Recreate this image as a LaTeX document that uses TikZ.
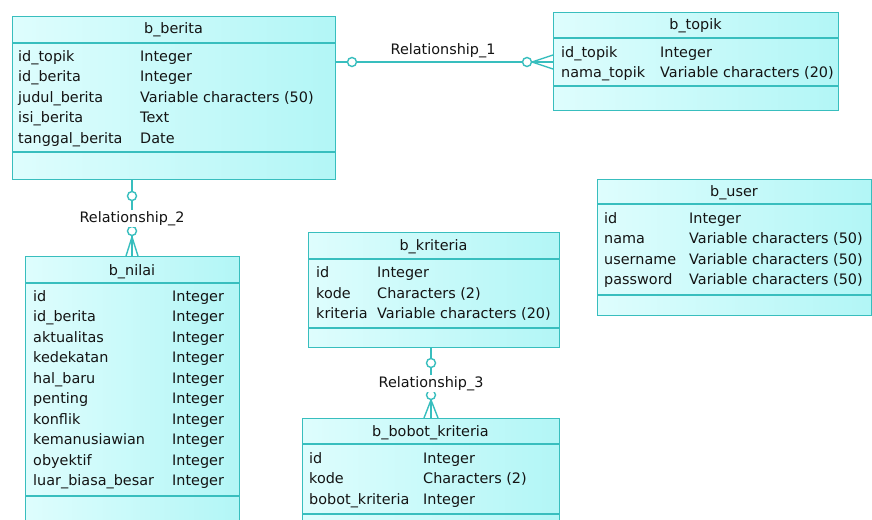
\documentclass[tikz,border=0pt]{standalone}
\usepackage{fontspec}
\setmainfont{DejaVu Sans}
\definecolor{ercol}{RGB}{56,190,190}
\definecolor{fillL}{RGB}{222,253,253}
\definecolor{fillR}{RGB}{178,246,246}
\definecolor{txt}{RGB}{20,20,20}
\begin{document}
\begin{tikzpicture}[x=1pt,y=-1pt,
  ent/.style={rectangle, draw=ercol, line width=1.4pt, left color=fillL, right color=fillR, inner sep=0pt, anchor=north west},
  sepl/.style={draw=ercol, line width=1.4pt},
  ttl/.style={anchor=base, inner sep=0pt, text=txt, font=\fontsize{14.4}{16}\selectfont},
  att/.style={anchor=base west, inner sep=0pt, text=txt, font=\fontsize{14.4}{16}\selectfont},
  rel/.style={draw=ercol, line width=1.4pt},
  ocirc/.style={circle, draw=ercol, fill=white, line width=1.4pt, minimum size=9pt, inner sep=0pt},
  rlab/.style={anchor=base, fill=white, inner sep=1.5pt, text=txt, font=\fontsize{14.4}{16}\selectfont}]
\useasboundingbox (0,0) rectangle (872,519);
\clip (0,0) rectangle (872,519);
\fill[white] (0,0) rectangle (872,519);

% ---------- b_berita
\node[ent, minimum width=323, minimum height=163] (berita) at (12,16) {};
\draw[sepl] (12,43) -- (335,43);
\draw[sepl] (12,152) -- (335,152);
\node[ttl] (berita-t) at (173.5,34) {b\_berita};
\foreach \n/\t [count=\i] in {id\_topik/Integer, id\_berita/Integer, judul\_berita/Variable characters (50), isi\_berita/Text, tanggal\_berita/Date}{
  \node[att] (berita-n\i) at (18,{61+20.5*(\i-1)}) {\n};
  \node[att] (berita-y\i) at (140,{61+20.5*(\i-1)}) {\t};
}

% ---------- b_topik
\node[ent, minimum width=285, minimum height=98] (topik) at (553,12) {};
\draw[sepl] (553,38) -- (838,38);
\draw[sepl] (553,86) -- (838,86);
\node[ttl] (topik-t) at (695.5,29.5) {b\_topik};
\foreach \n/\t [count=\i] in {id\_topik/Integer, nama\_topik/Variable characters (20)}{
  \node[att] (topik-n\i) at (561,{57+20.5*(\i-1)}) {\n};
  \node[att] (topik-y\i) at (660,{57+20.5*(\i-1)}) {\t};
}

% ---------- b_user
\node[ent, minimum width=273.5, minimum height=136] (user) at (597,179) {};
\draw[sepl] (597,204) -- (870.5,204);
\draw[sepl] (597,295) -- (870.5,295);
\node[ttl] (user-t) at (734,196) {b\_user};
\foreach \n/\t [count=\i] in {id/Integer, nama/Variable characters (50), username/Variable characters (50), password/Variable characters (50)}{
  \node[att] (user-n\i) at (604,{223+20.5*(\i-1)}) {\n};
  \node[att] (user-y\i) at (689,{223+20.5*(\i-1)}) {\t};
}

% ---------- b_nilai
\node[ent, minimum width=214, minimum height=280] (nilai) at (25,256) {};
\draw[sepl] (25,283) -- (239,283);
\draw[sepl] (25,496) -- (239,496);
\node[ttl] (nilai-t) at (132,275) {b\_nilai};
\foreach \n [count=\i] in {id, id\_berita, aktualitas, kedekatan, hal\_baru, penting, konflik, kemanusiawian, obyektif, luar\_biasa\_besar}{
  \node[att] (nilai-n\i) at (33,{301+20.5*(\i-1)}) {\n};
  \node[att] (nilai-y\i) at (172,{301+20.5*(\i-1)}) {Integer};
}

% ---------- b_kriteria
\node[ent, minimum width=251, minimum height=115] (kriteria) at (308,232) {};
\draw[sepl] (308,259) -- (559,259);
\draw[sepl] (308,328) -- (559,328);
\node[ttl] (kriteria-t) at (433.5,250) {b\_kriteria};
\foreach \n/\t [count=\i] in {id/Integer, kode/Characters (2), kriteria/Variable characters (20)}{
  \node[att] (kriteria-n\i) at (316,{277.5+20.5*(\i-1)}) {\n};
  \node[att] (kriteria-y\i) at (377,{277.5+20.5*(\i-1)}) {\t};
}

% ---------- b_bobot_kriteria
\node[ent, minimum width=257, minimum height=120] (bobot) at (302,418) {};
\draw[sepl] (302,444) -- (559,444);
\draw[sepl] (302,514) -- (559,514);
\node[ttl] (bobot-t) at (430.5,436) {b\_bobot\_kriteria};
\foreach \n/\t [count=\i] in {id/Integer, kode/Characters (2), bobot\_kriteria/Integer}{
  \node[att] (bobot-n\i) at (309,{463+20.5*(\i-1)}) {\n};
  \node[att] (bobot-y\i) at (423,{463+20.5*(\i-1)}) {\t};
}

% ---------- Relationship_1
\coordinate (r1a) at (335,62);
\coordinate (r1b) at (553,62);
\coordinate (r1f) at (532,62);
\draw[rel] (r1a) -- (r1b);
\draw[rel] (r1f) -- (553,55);
\draw[rel] (r1f) -- (553,69);
\node[ocirc] (r1c1) at (352,62) {};
\node[ocirc] (r1c2) at (527,62) {};
\node[rlab] (r1l) at (443,55) {Relationship\_1};

% ---------- Relationship_2
\coordinate (r2a) at (132,179);
\coordinate (r2b) at (132,256);
\coordinate (r2f) at (132,237);
\draw[rel] (r2a) -- (r2b);
\draw[rel] (r2f) -- (126,256);
\draw[rel] (r2f) -- (138,256);
\node[ocirc] (r2c1) at (132,196) {};
\node[ocirc] (r2c2) at (132,231) {};
\node[rlab] (r2l) at (132,222) {Relationship\_2};

% ---------- Relationship_3
\coordinate (r3a) at (431,347);
\coordinate (r3b) at (431,418);
\coordinate (r3f) at (431,400);
\draw[rel] (r3a) -- (r3b);
\draw[rel] (r3f) -- (424,418);
\draw[rel] (r3f) -- (438,418);
\node[ocirc] (r3c1) at (431,363) {};
\node[ocirc] (r3c2) at (431,395) {};
\node[rlab] (r3l) at (431,387) {Relationship\_3};
\end{tikzpicture}
\end{document}
